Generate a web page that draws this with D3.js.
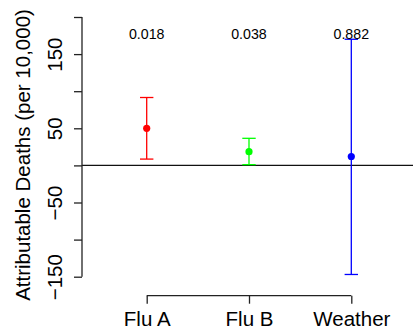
<!DOCTYPE html>
<html lang="en">
<head>
<script src="https://d3js.org/d3.v7.min.js"></script>
<style>
  body { margin: 0; background: #fff; }
  text { font-family: "Liberation Sans", Arial, sans-serif; fill: #000; }
</style>
</head>
<body>
<script>
// data
const categories = ["Flu A", "Flu B", "Weather"];
const estimates = [50, 18.5, 12];
const lower = [8.5, 1, -147];
const upper = [91.5, 36.5, 170];
const pValues = ["0.018", "0.038", "0.882"];
const colors = ["#ff0000", "#00ff00", "#0000ff"];
const yTicks = [-150, -100, -50, 0, 50, 100, 150, 200];
const yTickLabels = {"-150": "\u2212150", "-50": "\u221250", "50": "50", "150": "150"};

const width = 413, height = 329;
const axisFont = 20.5;
const svg = d3.select("body").append("svg")
  .attr("width", width).attr("height", height);

const y = d3.scaleLinear().domain([-150, 200]).range([276.7, 17]);
const x = d3.scalePoint().domain(categories).range([146.7, 351.3]);
const axisX = 82;

// zero line
svg.append("line")
  .attr("x1", axisX).attr("x2", width)
  .attr("y1", y(0)).attr("y2", y(0))
  .attr("stroke", "#111").attr("stroke-width", 1.3);

// y axis
const gy = svg.append("g")
  .attr("transform", `translate(${axisX},0)`)
  .call(d3.axisLeft(y).tickValues(yTicks).tickSize(8).tickPadding(0)
    .tickFormat(d => yTickLabels[d] || ""));
gy.select(".domain").attr("stroke", "#222").attr("stroke-width", 1.3).attr("d", `M0,${y(-150)}V${y(200)}`);
gy.selectAll(".tick line").attr("stroke", "#222").attr("stroke-width", 1.3);
gy.selectAll(".tick text")
  .attr("font-size", axisFont).attr("font-family", "Liberation Sans, Arial, sans-serif")
  .attr("fill", "#000")
  .attr("text-anchor", "middle")
  .attr("dy", 0).attr("x", 0).attr("y", 0)
  .attr("transform", "translate(-20,0) rotate(-90)");

// x axis
const gx = svg.append("g")
  .attr("transform", "translate(0,295.7)")
  .call(d3.axisBottom(x).tickSize(8).tickPadding(8));
gx.select(".domain").attr("stroke", "#222").attr("stroke-width", 1.3)
  .attr("d", `M${x(categories[0])},0H${x(categories[2])}`);
gx.selectAll(".tick line").attr("stroke", "#222").attr("stroke-width", 1.3);
gx.selectAll(".tick text")
  .attr("font-size", axisFont).attr("font-family", "Liberation Sans, Arial, sans-serif")
  .attr("fill", "#000").attr("dy", 0).attr("y", 30);

// y label
svg.append("text")
  .attr("transform", `translate(30,${y(14)}) rotate(-90)`)
  .attr("text-anchor", "middle")
  .attr("font-size", axisFont)
  .text("Attributable Deaths (per 10,000)");

// error bars
const bars = svg.append("g");
categories.forEach((c, i) => {
  const g = bars.append("g").attr("stroke", colors[i]).attr("stroke-width", 1.3);
  g.append("line").attr("x1", x(c)).attr("x2", x(c)).attr("y1", y(lower[i])).attr("y2", y(upper[i]));
  g.append("line").attr("x1", x(c) - 6.7).attr("x2", x(c) + 6.7).attr("y1", y(lower[i])).attr("y2", y(lower[i]));
  g.append("line").attr("x1", x(c) - 6.7).attr("x2", x(c) + 6.7).attr("y1", y(upper[i])).attr("y2", y(upper[i]));
  bars.append("circle").attr("cx", x(c)).attr("cy", y(estimates[i])).attr("r", 3.6).attr("fill", colors[i]);
  svg.append("text")
    .attr("x", x(c)).attr("y", 38.5)
    .attr("text-anchor", "middle")
    .attr("font-size", 14.2)
    .text(pValues[i]);
});
</script>
</body>
</html>
